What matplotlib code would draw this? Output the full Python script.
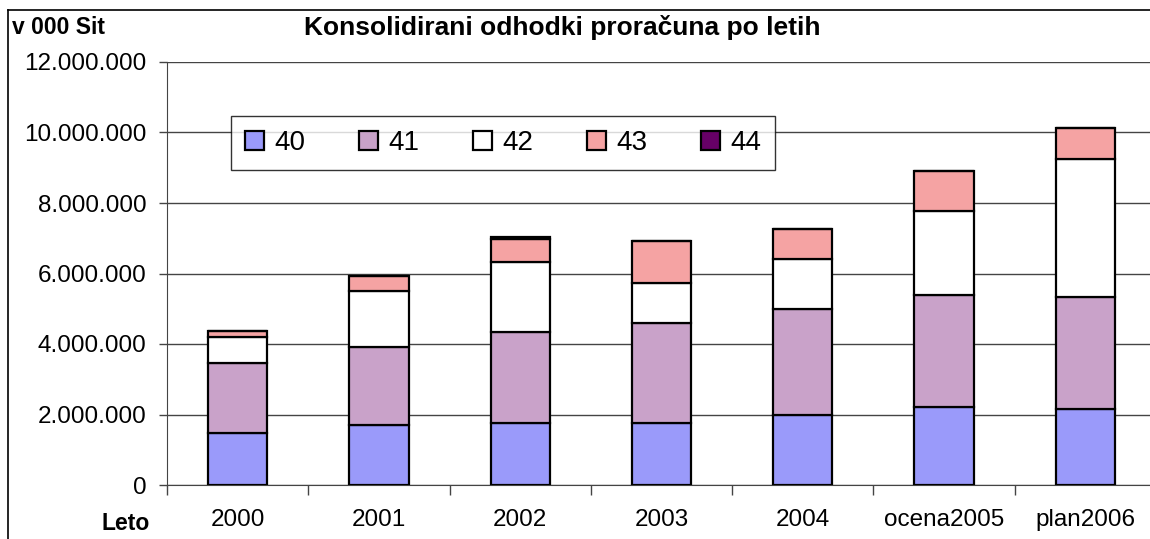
import matplotlib
matplotlib.use("Agg")
import matplotlib.pyplot as plt
import numpy as np

categories = ["2000", "2001", "2002", "2003", "2004", "ocena2005", "plan2006"]
s40 = [1480000, 1700000, 1760000, 1760000, 1990000, 2210000, 2160000]
s41 = [1980000, 2210000, 2580000, 2840000, 3000000, 3180000, 3170000]
s42 = [740000, 1590000, 1990000, 1130000, 1420000, 2380000, 3920000]
s43 = [170000, 430000, 650000, 1190000, 850000, 1140000, 880000]
s44 = [0, 0, 60000, 0, 0, 0, 0]
series_names = ["40", "41", "42", "43", "44"]
colors = ["#9A9AFA", "#C9A2C9", "#FFFFFF", "#F5A3A3", "#660066"]
yticks = [0, 2000000, 4000000, 6000000, 8000000, 10000000, 12000000]

plt.rcParams['font.family'] = ['Liberation Sans', 'DejaVu Sans']

W, H = 1150, 539
fig = plt.figure(figsize=(W/100, H/100), dpi=100)
ax = fig.add_axes([167/W, 1-485/H, (1156-167)/W, (485-62)/H])

x = np.arange(len(categories))
bottom = np.zeros(len(categories))
handles = []
for name, vals, c in zip(series_names, [s40, s41, s42, s43, s44], colors):
    vals = np.array(vals, dtype=float)
    b = ax.bar(x, vals, bottom=bottom, width=0.42, color=c, edgecolor="black",
               linewidth=1.6, label=name, zorder=3)
    bottom += vals
    handles.append(b)

ax.set_xlim(-0.5, len(categories) - 0.5)
ax.set_ylim(0, 12000000)
ax.set_yticks(yticks)
ax.set_yticklabels([f"{v:,}".replace(",", ".") for v in yticks], fontsize=17.5)
ax.yaxis.grid(True, color="#444444", linewidth=1.0, zorder=0)
ax.set_xticks(x)
ax.set_xticklabels(categories, fontsize=17.5)
ax.tick_params(axis="x", length=0, pad=17)
ax.set_xticks(np.arange(len(categories)+1) - 0.5, minor=True)
ax.tick_params(axis="x", which="minor", length=7, color="#444444", width=1)
ax.tick_params(axis="y", length=6, color="#444444", width=1, pad=9)
for s in ["top", "right"]:
    ax.spines[s].set_visible(False)
ax.spines["left"].set_color("#444444")
ax.spines["bottom"].set_color("#444444")

leg = fig.legend(handles=handles, labels=series_names, ncol=5,
                 loc="center", bbox_to_anchor=(503/W, 1-143/H),
                 fontsize=20, frameon=True, fancybox=False, edgecolor="black",
                 handlelength=0.68, handleheight=0.68, handletextpad=0.36,
                 columnspacing=1.95, borderpad=0.5, borderaxespad=0)
leg.get_frame().set_linewidth(1.0)

fig.text(12/W, 1-27/H, "v 000 Sit", fontsize=16.5, fontweight="bold", va="center", ha="left")
fig.text(562/W, 1-27/H, "Konsolidirani odhodki proračuna po letih", fontsize=19,
         fontweight="bold", va="center", ha="center")
fig.text(126/W, 1-524/H, "Leto", fontsize=16.5, fontweight="bold", va="center", ha="center")

# outer frame (left and top visible)
fig.add_artist(plt.Line2D([8/W, 8/W], [0, 1-10/H], transform=fig.transFigure, color="black", linewidth=1.2))
fig.add_artist(plt.Line2D([8/W, 1], [1-10/H, 1-10/H], transform=fig.transFigure, color="black", linewidth=1.2))

fig.savefig("out.png", dpi=100)
